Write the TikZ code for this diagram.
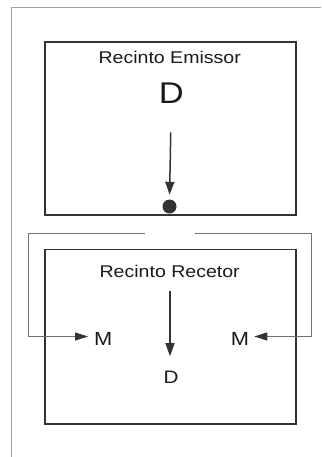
\documentclass[tikz,border=0pt]{standalone}
\usepackage{fontspec}
\setmainfont{Liberation Sans}
\newfontfamily\wf[FakeStretch=1.15]{Liberation Sans}
\usetikzlibrary{arrows.meta}
\definecolor{boxc}{HTML}{333333}
\definecolor{framec}{HTML}{A0A0A0}
\definecolor{brc}{HTML}{707070}
\definecolor{txtc}{HTML}{1A1A1A}
\begin{document}
\begin{tikzpicture}[x=1pt,y=-1pt,
  box/.style={draw=boxc,line width=1.3pt,minimum width=251pt,inner sep=0pt},
  lbl/.style={inner sep=0pt,anchor=base,text=txtc},
  arr/.style={draw=boxc,line width=1.5pt,-{Triangle[length=13pt,width=9pt]}},
  brk/.style={draw=brc,line width=1.1pt},
  brkarr/.style={brk,-{Triangle[length=13pt,width=8pt,color=boxc]}},
  frm/.style={draw=framec,line width=1.4pt}]
\useasboundingbox (0,0) rectangle (321,457);
% outer frame (partially visible)
\draw[frm] (11.5,457) -- (11.5,7.5) -- (321,7.5);
% boxes
\node[box,minimum height=173pt] (emissor) at (170.5,128.5) {};
\node[box,minimum height=174.5pt] (recetor) at (170.5,336.75) {};
% texts
\node[lbl] (temissor) at (169.7,64) {\wf\fontsize{17}{20}\selectfont Recinto Emissor};
\node[lbl] (dtop) at (171.3,103.3) {\wf\fontsize{30}{34}\selectfont D};
\node[lbl] (trecetor) at (169.7,277.7) {\wf\fontsize{17}{20}\selectfont Recinto Recetor};
\node[lbl] (dbot) at (171,383.3) {\wf\fontsize{18}{21}\selectfont D};
\node[lbl] (ml) at (103.3,345.7) {\wf\fontsize{19}{22}\selectfont M};
\node[lbl] (mr) at (240,345.7) {\wf\fontsize{19}{22}\selectfont M};
% dot
\node[circle,fill=boxc,inner sep=0pt,minimum size=14pt] (dot) at (169.5,206.5) {};
% arrows
\draw[arr,shorten <=29pt,shorten >=4.5pt] (dtop.south) -- (dot.north);
\draw[arr,shorten <=13.3pt,shorten >=14.5pt] (trecetor.south -| 170,0) -- (dbot.north -| 170,0);
% bracket
\coordinate (gl) at (145,233.5);
\coordinate (cl) at (28.5,233.5);
\coordinate (bl) at (28.5,336.5);
\coordinate (gr) at (195,233.5);
\coordinate (cr) at (311.5,233.5);
\coordinate (br) at (311.5,336.5);
\draw[brk] (gl) -- (cl) -- (bl);
\draw[brkarr,shorten >=6pt] (bl) -- (bl -| ml.west);
\draw[brk] (gr) -- (cr) -- (br);
\draw[brkarr,shorten >=5pt] (br) -- (br -| mr.east);
\end{tikzpicture}
\end{document}
